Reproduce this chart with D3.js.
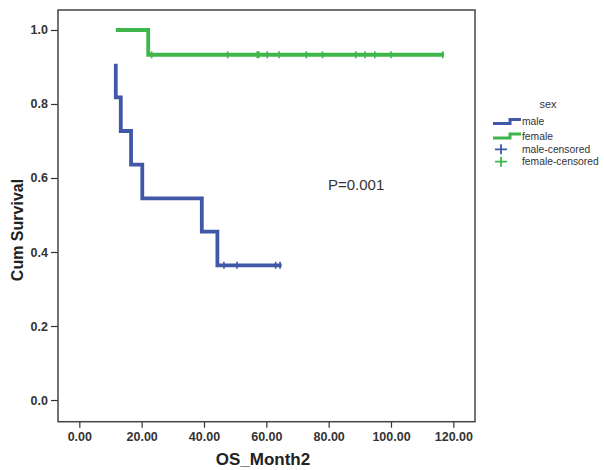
<!DOCTYPE html>
<html><head><meta charset="utf-8">
<script src="https://cdn.jsdelivr.net/npm/d3@7"></script>
<style>body{margin:0;background:#fff}svg{display:block}</style>
</head><body><svg id="c" width="604" height="470"></svg>
<script>
const xTicks = [0, 20, 40, 60, 80, 100, 120];
const yTicks = [0, 0.2, 0.4, 0.6, 0.8, 1.0];
const maleTime = [11.7, 11.7, 13.3, 16.6, 20.2, 39.3, 44.3, 64.9];
const maleSurv = [0.909, 0.818, 0.727, 0.636, 0.545, 0.455, 0.364, 0.364];
const maleCensored = [46.4, 50.6, 63.0, 64.4];
const maleCensoredSurv = 0.364;
const femaleTime = [11.7, 22.1, 117.0];
const femaleSurv = [1.0, 0.933, 0.933];
const femaleCensored = [23.2, 47.6, 57.1, 57.6, 60.3, 64.1, 72.8, 78.0, 88.7, 91.7, 94.8, 100.0, 116.6];
const femaleCensoredSurv = 0.933;
const legendLabels = ["male", "female", "male-censored", "female-censored"];

const blue = "#4157a8", green = "#3fb64b";
const svg = d3.select("#c");
const L = 58, R = 475, T = 10, B = 421.7;
const x = d3.scaleLinear().domain([-6.84, 126.95]).range([L, R]);
const y = d3.scaleLinear().domain([-0.0586, 1.054]).range([B, T]);

// axes
const xa = svg.append("g").attr("transform", `translate(0,${B})`)
  .call(d3.axisBottom(x).tickValues(xTicks).tickSize(6).tickSizeOuter(0).tickFormat(d3.format(".2f")));
const ya = svg.append("g").attr("transform", `translate(${L},0)`)
  .call(d3.axisLeft(y).tickValues(yTicks).tickSize(7).tickSizeOuter(0).tickFormat(d3.format(".1f")));
[xa, ya].forEach(g => {
  g.select(".domain").remove();
  g.selectAll(".tick line").attr("stroke", "#333").attr("stroke-width", 1.2);
  g.selectAll(".tick text").attr("fill", "#333").style("font-family", "Liberation Sans, Arial, sans-serif")
    .style("font-size", "12.5px").style("font-weight", "bold");
});
xa.selectAll(".tick text").attr("dy", "0.71em").attr("y", 10);
ya.selectAll(".tick text").attr("x", -10);

// frame
svg.append("rect").attr("x", L).attr("y", T).attr("width", R - L).attr("height", B - T)
  .attr("fill", "none").attr("stroke", "#444").attr("stroke-width", 1.5);

// curves
const line = d3.line().x(d => x(d[0])).y(d => y(d[1])).curve(d3.curveStepAfter);
svg.append("path").datum(maleTime.map((t, i) => [t, maleSurv[i]])).attr("d", line)
  .attr("fill", "none").attr("stroke", blue).attr("stroke-width", 3.8);
svg.append("path").datum(femaleTime.map((t, i) => [t, femaleSurv[i]])).attr("d", line)
  .attr("fill", "none").attr("stroke", green).attr("stroke-width", 3.8);

function censor(times, s, col) {
  svg.append("g").selectAll("path").data(times).join("path")
    .attr("d", t => `M${x(t)},${y(s) - 3.5}V${y(s) + 3.5}`)
    .attr("stroke", col).attr("stroke-width", 1.6);
}
censor(maleCensored, maleCensoredSurv, blue);
censor(femaleCensored, femaleCensoredSurv, green);

// p value
svg.append("text").attr("x", 328).attr("y", 190).text("P=0.001")
  .style("font-family", "Liberation Sans, Arial, sans-serif").style("font-size", "15px").attr("fill", "#333");

// axis titles
svg.append("text").attr("x", 263).attr("y", 465).attr("text-anchor", "middle").text("OS_Month2")
  .style("font-family", "Liberation Sans, Arial, sans-serif").style("font-size", "17px").style("font-weight", "bold").attr("fill", "#222");
svg.append("text").attr("transform", "translate(23,230) rotate(-90)").attr("text-anchor", "middle").text("Cum Survival")
  .style("font-family", "Liberation Sans, Arial, sans-serif").style("font-size", "16px").style("font-weight", "bold").attr("fill", "#222");

// legend
const lg = svg.append("g").style("font-family", "Liberation Sans, Arial, sans-serif").style("font-size", "10.3px").attr("fill", "#333");
lg.append("text").attr("x", 548).attr("y", 107.5).attr("text-anchor", "middle").text("sex").style("font-size", "11px");
[[blue, 121.5], [green, 136]].forEach(([c, yy], i) => {
  lg.append("path").attr("d", `M493,${yy + 2}H510V${yy - 2}H521`).attr("fill", "none").attr("stroke", c).attr("stroke-width", 3);
  lg.append("text").attr("x", 522).attr("y", yy + 3.5).text(legendLabels[i]);
});
[[blue, 149.3], [green, 161.7]].forEach(([c, yy], i) => {
  lg.append("path").attr("d", `M495,${yy}H507M501,${yy - 5}V${yy + 5}`).attr("stroke", c).attr("stroke-width", 1.8);
  lg.append("text").attr("x", 522).attr("y", yy + 3.5).text(legendLabels[i + 2]);
});
</script></body></html>
